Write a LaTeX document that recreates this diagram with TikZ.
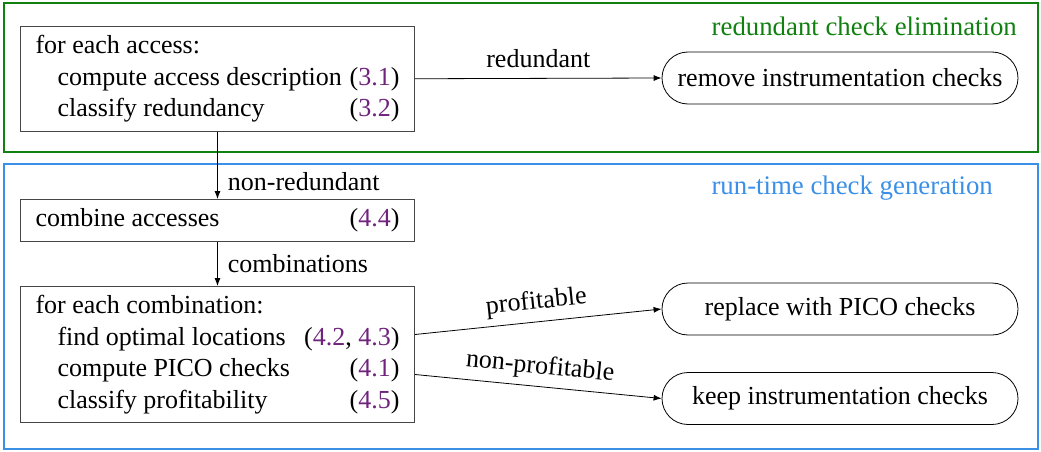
\documentclass[tikz,border=0pt]{standalone}
\usepackage{fontspec}
\setmainfont{Liberation Serif}
\usetikzlibrary{arrows.meta}
\definecolor{stagegreen}{RGB}{16,128,16}
\definecolor{stageblue}{RGB}{58,143,230}
\definecolor{refpurple}{RGB}{112,35,125}
\definecolor{boxgray}{RGB}{70,70,70}
\newcommand{\secref}[1]{\textcolor{refpurple}{#1}}
\newcommand{\ind}{\hspace*{22pt}}

\begin{document}
\begin{tikzpicture}[x=1pt, y=-1pt,
    font=\fontsize{26}{31.5}\selectfont,
    stagebox/.style={draw=boxgray, line width=1pt, inner xsep=15pt,
      inner ysep=5pt, anchor=north west},
    outcome/.style={draw=black, line width=0.8pt, rounded corners=26pt,
      minimum width=356pt, minimum height=52pt, inner sep=0pt},
    flow/.style={-{Latex[length=8pt,width=6pt]}, line width=0.8pt},
    frameline/.style={line width=2pt},
    edgelabel/.style={inner sep=2pt},
    titlelabel/.style={inner sep=0pt, anchor=base east}]
  \useasboundingbox (0,0) rectangle (1041,452);

  % stage frames
  \draw[frameline, stagegreen] (4,3) rectangle (1038,152);
  \draw[frameline, stageblue] (4,164) rectangle (1038,449);
  \node[titlelabel, text=stagegreen, font=\fontsize{26.8}{31.5}\selectfont]
    (elimtitle) at (1017,36) {redundant check elimination};
  \node[titlelabel, text=stageblue, font=\fontsize{26.8}{31.5}\selectfont]
    (gentitle) at (993,194) {run-time check generation};

  % processing steps
  \node[stagebox] (access) at (20,26) {%
    \begin{tabular*}{364pt}{@{}l@{\extracolsep{\fill}}r@{}}
      for each access: & \\
      \ind compute access description\ & (\secref{3.1})\\
      \ind classify redundancy & (\secref{3.2})
    \end{tabular*}};
  \node[stagebox] (combine) at (20,199) {%
    \begin{tabular*}{364pt}{@{}l@{\extracolsep{\fill}}r@{}}
      combine accesses & (\secref{4.4})
    \end{tabular*}};
  \node[stagebox] (plan) at (20,286) {%
    \begin{tabular*}{364pt}{@{}l@{\extracolsep{\fill}}r@{}}
      for each combination: & \\
      \ind find optimal locations & (\secref{4.2}, \secref{4.3})\\
      \ind compute PICO checks & (\secref{4.1})\\
      \ind classify profitability & (\secref{4.5})
    \end{tabular*}};

  % outcomes
  \node[outcome] (remove) at (840,78) {remove instrumentation checks};
  \node[outcome] (replace) at (840,309) {replace with PICO checks};
  \node[outcome] (keep) at (840,398.5) {keep instrumentation checks};

  % connectors
  \draw[flow] (access.east) -- (remove.west)
    node[edgelabel, midway, above=8pt] {redundant};
  \draw[flow] (access.south) -- (combine.north)
    node[edgelabel, pos=0.74, right=8pt] {non-redundant};
  \draw[flow] (combine.south) -- (plan.north)
    node[edgelabel, midway, right=8pt] {combinations};
  \draw[flow] ([yshift=20pt]plan.east) -- (replace.west)
    node[edgelabel, midway, sloped, above=5pt] {profitable};
  \draw[flow] ([yshift=-20pt]plan.east) -- (keep.west)
    node[edgelabel, midway, sloped, above=5pt] {non-profitable};
\end{tikzpicture}
\end{document}
